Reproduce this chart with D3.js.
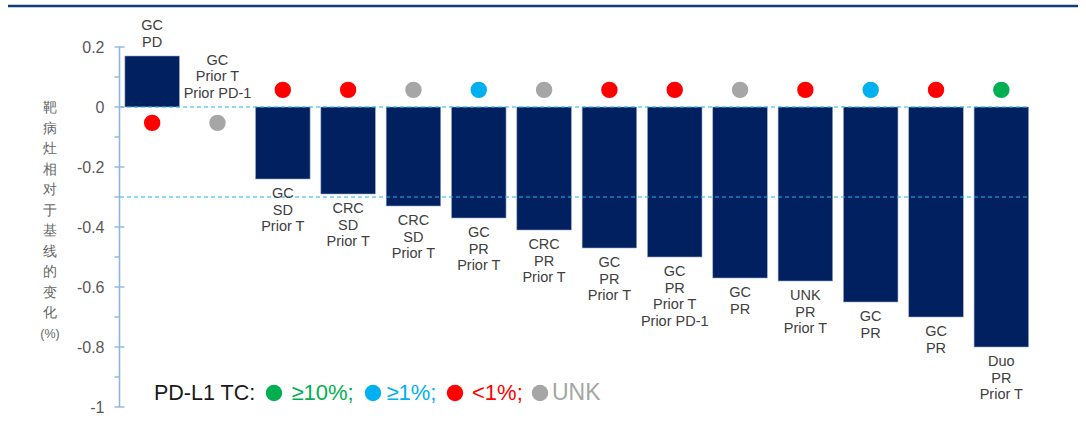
<!DOCTYPE html>
<html>
<head>
<meta charset="utf-8">
<script src="https://cdn.jsdelivr.net/npm/d3@7"></script>
<style>
  html, body { margin: 0; padding: 0; background: #fff; }
  svg { display: block; }
  text { font-family: "Liberation Sans", Arial, sans-serif; }
</style>
</head>
<body>
<svg id="chart" width="1086" height="424"></svg>
<script>
// Best change from baseline in target lesions, one bar per patient
const patientLabels = [
  ["GC", "PD"],
  ["GC", "Prior T", "Prior PD-1"],
  ["GC", "SD", "Prior T"],
  ["CRC", "SD", "Prior T"],
  ["CRC", "SD", "Prior T"],
  ["GC", "PR", "Prior T"],
  ["CRC", "PR", "Prior T"],
  ["GC", "PR", "Prior T"],
  ["GC", "PR", "Prior T", "Prior PD-1"],
  ["GC", "PR"],
  ["UNK", "PR", "Prior T"],
  ["GC", "PR"],
  ["GC", "PR"],
  ["Duo", "PR", "Prior T"]
];
const changeValues = [0.17, 0, -0.24, -0.29, -0.33, -0.37, -0.41, -0.47, -0.50, -0.57, -0.58, -0.65, -0.70, -0.80];
const pdl1Status = ["<1%", "UNK", "<1%", "<1%", "UNK", "≥1%", "UNK", "<1%", "<1%", "UNK", "<1%", "≥1%", "<1%", "≥10%"];

const statusKeys = ["≥10%", "≥1%", "<1%", "UNK"];
const statusColors = ["#00b050", "#00b0f0", "#ff0000", "#a6a6a6"];
const legendTexts = ["≥10%;", "≥1%;", "<1%;", "UNK"];

const yTicks = [0.2, 0, -0.2, -0.4, -0.6, -0.8, -1];
const yMinorTicks = [0.1, -0.1, -0.3, -0.5, -0.7, -0.9];
const refLines = [0, -0.3];
const yTitle = ["靶", "病", "灶", "相", "对", "于", "基", "线", "的", "变", "化", "(%)"];

const svg = d3.select("#chart");
const ids = d3.range(changeValues.length);

const x = d3.scaleBand().domain(ids).range([119.5, 1034]).paddingInner(0.165).paddingOuter(0.0825);
const y = d3.scaleLinear().domain([-1, 0.2]).range([407, 47]);
const color = d3.scaleOrdinal().domain(statusKeys).range(statusColors);

// top rule
svg.append("line")
  .attr("x1", 8).attr("x2", 1078).attr("y1", 6).attr("y2", 6)
  .attr("stroke", "#0f3d7a").attr("stroke-width", 2.6);

// bars
svg.append("g").selectAll("rect").data(ids).join("rect")
  .attr("x", i => x(i))
  .attr("width", x.bandwidth())
  .attr("y", i => y(Math.max(0, changeValues[i])))
  .attr("height", i => Math.abs(y(changeValues[i]) - y(0)))
  .attr("fill", "#002060")
  .attr("stroke", "#9aa8c4").attr("stroke-width", 0.6);

// dashed reference lines
svg.append("g").selectAll("line").data(refLines).join("line")
  .attr("x1", 120).attr("x2", 1030)
  .attr("y1", d => y(d)).attr("y2", d => y(d))
  .attr("stroke", "#1fb4ee").attr("stroke-width", 1)
  .attr("stroke-dasharray", "4,3");

// y axis
const axisG = svg.append("g").attr("transform", "translate(119.5,0)");
axisG.call(d3.axisLeft(y).tickValues(yTicks).tickSize(0).tickPadding(15)
  .tickFormat(d => String(+d.toFixed(1))));
axisG.select(".domain").remove();
axisG.selectAll(".tick text")
  .attr("fill", "#595959").attr("font-size", 16)
  .attr("font-family", "Liberation Sans, Arial, sans-serif");
axisG.append("line").attr("y1", y(0.2)).attr("y2", y(-1))
  .attr("stroke", "#8fb6e3").attr("stroke-width", 1.6);
axisG.selectAll(".major").data(yTicks).join("line").attr("class", "major")
  .attr("x1", -5).attr("x2", 5).attr("y1", d => y(d)).attr("y2", d => y(d))
  .attr("stroke", "#8fb6e3").attr("stroke-width", 1.4);
axisG.selectAll(".minor").data(yMinorTicks).join("line").attr("class", "minor")
  .attr("x1", -5).attr("x2", 0).attr("y1", d => y(d)).attr("y2", d => y(d))
  .attr("stroke", "#8fb6e3").attr("stroke-width", 1.4);

// vertical axis title
svg.append("g").selectAll("text").data(yTitle).join("text")
  .attr("x", 50).attr("y", (d, i) => 112 + i * 20.5)
  .attr("text-anchor", "middle")
  .attr("font-family", "Noto Sans CJK SC, sans-serif")
  .attr("font-size", (d, i) => i === yTitle.length - 1 ? 12.5 : 13.5)
  .attr("fill", "#666666")
  .text(d => d);

// PD-L1 status dots, opposite side of each bar
svg.append("g").selectAll("circle").data(ids).join("circle")
  .attr("cx", i => x(i) + x.bandwidth() / 2)
  .attr("cy", i => changeValues[i] >= 0 ? y(-0.053) : y(0.057))
  .attr("r", 8.2)
  .attr("fill", i => color(pdl1Status[i]));

// bar labels
const lineH = 16.7;
const labelG = svg.append("g");
ids.forEach(i => {
  const lines = patientLabels[i];
  const v = changeValues[i];
  const cx = x(i) + x.bandwidth() / 2;
  const firstBase = v >= 0
    ? y(v) - 9 - (lines.length - 1) * lineH
    : y(v) + 19;
  const t = labelG.append("text")
    .attr("text-anchor", "middle")
    .attr("font-size", 14.5)
    .attr("fill", "#404040");
  lines.forEach((s, k) => {
    t.append("tspan").attr("x", cx).attr("y", firstBase + k * lineH).text(s);
  });
});

// legend
const legend = svg.append("g").attr("transform", "translate(154,400)");
legend.append("text").attr("x", 0).attr("font-size", 21.5)
  .attr("fill", "#1a1a1a").text("PD-L1 TC:");
const legendDotX = [120, 219, 301, 386];
const legendTextX = [137.5, 232.5, 318, 398];
statusKeys.forEach((k, i) => {
  legend.append("circle").attr("cx", legendDotX[i]).attr("cy", -7).attr("r", 8.2)
    .attr("fill", color(k));
  legend.append("text").attr("x", legendTextX[i]).attr("font-size", i === 3 ? 23 : 22)
    .attr("fill", color(k)).text(legendTexts[i]);
});
</script>
</body>
</html>
